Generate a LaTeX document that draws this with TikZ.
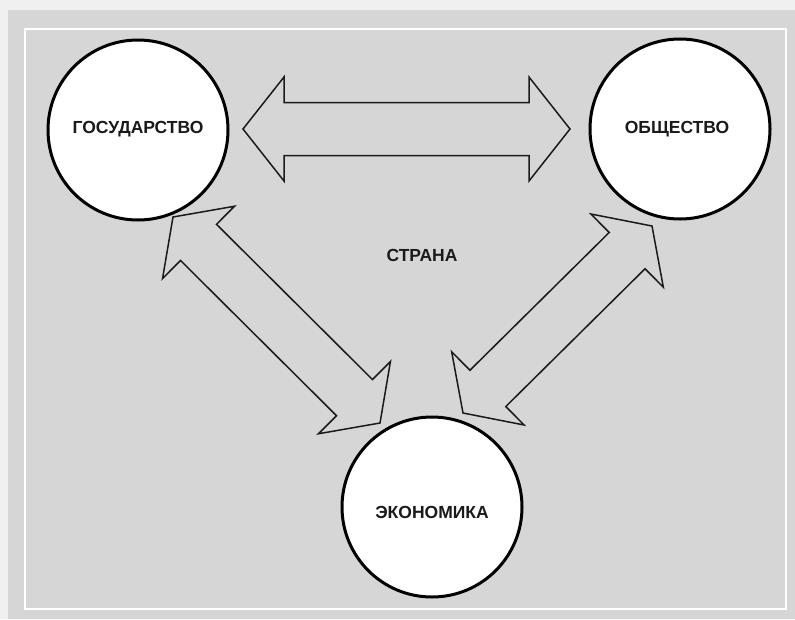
\documentclass[tikz,border=0pt]{standalone}
\usepackage{fontspec}
\setmainfont{Liberation Sans}
\usetikzlibrary{calc}
\definecolor{bggray}{HTML}{D6D6D6}
\definecolor{margin}{HTML}{F0F0F0}
\definecolor{inkc}{HTML}{1A1A1A}
\tikzset{
  circ/.style={circle, draw=black, line width=3pt, fill=white, minimum size=180pt, inner sep=0pt},
  lbl/.style={font=\fontsize{17.5}{20}\selectfont\bfseries, text=inkc, inner sep=0pt},
  arrowline/.style={draw=inkc, line width=1.5pt, line join=miter},
}
\newcommand\dblblockarrow[5]{%
  \coordinate (ha) at ($(#1)!#5!(#2)$);
  \coordinate (hb) at ($(#2)!#5!(#1)$);
  \draw[arrowline] (#1) -- ($(ha)!#4!90:(#2)$) -- ($(ha)!#3!90:(#2)$)
    -- ($(hb)!#3!-90:(#1)$) -- ($(hb)!#4!-90:(#1)$) -- (#2)
    -- ($(hb)!#4!90:(#1)$) -- ($(hb)!#3!90:(#1)$)
    -- ($(ha)!#3!-90:(#2)$) -- ($(ha)!#4!-90:(#2)$) -- cycle;
}
\begin{document}
\begin{tikzpicture}[x=1pt, y=-1pt]
  \useasboundingbox (0,0) rectangle (795,619);
  \fill[margin] (0,0) rectangle (795,619);
  \fill[bggray] (8,10) rectangle (795,619);
  \draw[white, line width=2pt] (25,29) rectangle (786,609);

  \node[circ] (gos) at (138,130) {};
  \node[lbl] (gostxt) at (138,129) {ГОСУДАРСТВО};
  \node[circ] (obs) at (680,129) {};
  \node[lbl] (obstxt) at (677,129) {ОБЩЕСТВО};
  \node[circ] (eco) at (432,507) {};
  \node[lbl] (ecotxt) at (432,512) {ЭКОНОМИКА};
  \node[lbl] (strana) at (422,255) {СТРАНА};

  \coordinate (a1) at (243,129);
  \coordinate (a2) at (570,129);
  \coordinate (b1) at (173,217);
  \coordinate (b2) at (380,423);
  \coordinate (c1) at (652,226);
  \coordinate (c2) at (463,413);
  \dblblockarrow{a1}{a2}{26.5pt}{52pt}{41pt}
  \dblblockarrow{b1}{b2}{25.5pt}{51pt}{36pt}
  \dblblockarrow{c1}{c2}{25.5pt}{51.5pt}{35pt}
\end{tikzpicture}
\end{document}
